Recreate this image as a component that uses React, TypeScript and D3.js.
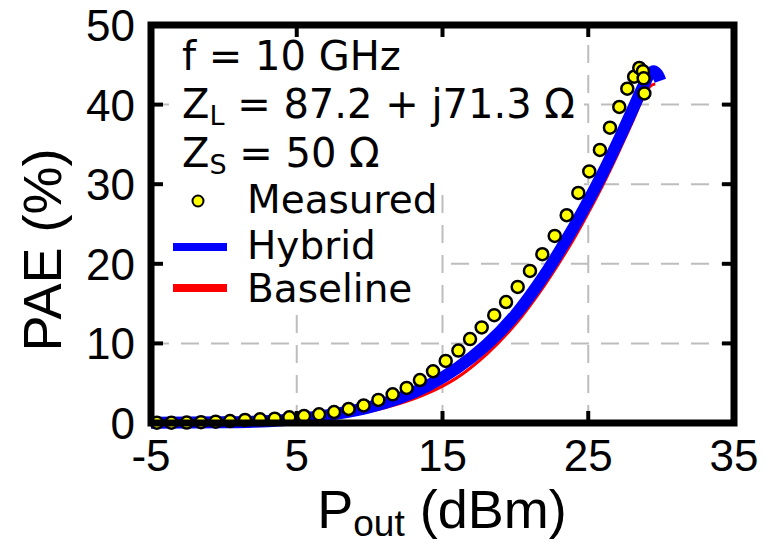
import * as d3 from 'd3';

// measured PAE (%) vs Pout (dBm)
const measPout = [-4.6, -3.6, -2.55, -1.57, -0.56, 0.42, 1.45, 2.48, 3.49, 4.49, 5.5, 6.53, 7.56, 8.56, 9.59, 10.6, 11.58, 12.54, 13.45, 14.35, 15.22, 16.09, 16.89, 17.69, 18.55, 19.36, 20.16, 21.0, 21.85, 22.7, 23.52, 24.32, 25.07, 25.8, 26.49, 27.13, 27.68, 28.15, 28.5, 28.75, 28.8, 28.85];
const measPae = [0.04, 0.04, 0.05, 0.1, 0.17, 0.25, 0.38, 0.46, 0.54, 0.71, 0.88, 1.09, 1.38, 1.76, 2.2, 2.9, 3.6, 4.4, 5.4, 6.5, 7.8, 9.1, 10.55, 12.0, 13.55, 15.2, 17.1, 19.1, 21.2, 23.5, 26.1, 28.9, 31.6, 34.3, 37.1, 39.7, 42.0, 43.5, 44.6, 44.2, 43.3, 41.4];

// simulated curves
const hybPout = [-5, 0, 2, 4, 6, 8, 10, 12, 14, 16, 18, 20, 22, 24, 25, 26, 27, 28, 28.8, 29.2, 29.5, 29.75, 29.95];
const hybPae = [0.03, 0.08, 0.15, 0.35, 0.7, 1.25, 2.0, 3.1, 4.7, 6.9, 9.8, 13.6, 18.6, 24.6, 27.9, 31.4, 35.2, 39.2, 42.4, 43.8, 44.2, 43.8, 43.0];
const basePout = [-5, 0, 2, 4, 6, 8, 10, 12, 14, 16, 18, 20, 22, 24, 25, 26, 27, 28, 28.8, 29.3, 29.6];
const basePae = [0.0, 0.04, 0.09, 0.22, 0.45, 0.85, 1.45, 2.4, 3.75, 5.7, 8.6, 12.4, 17.3, 23.1, 26.4, 29.9, 33.7, 37.7, 41.0, 42.4, 42.6];

const xTicks = [-5, 5, 15, 25, 35];
const yTicks = [0, 10, 20, 30, 40, 50];

const W = 766;
const H = 543;
const left = 151, right = 734, top = 25, bottom = 423;

export default function App() {
  const x = d3.scaleLinear().domain([-5, 35]).range([left, right]);
  const y = d3.scaleLinear().domain([0, 50]).range([bottom, top]);

  const line = d3.line<[number, number]>()
    .x(d => x(d[0]))
    .y(d => y(d[1]))
    .curve(d3.curveCatmullRom);

  const hyb = hybPout.map((p, i) => [p, hybPae[i]] as [number, number]);
  const base = basePout.map((p, i) => [p, basePae[i]] as [number, number]);

  const sans = "'Liberation Sans', Arial, sans-serif";
  const dv = "'DejaVu Sans', sans-serif";

  return (
    <svg width={W} height={H} style={{position: 'absolute', left: 0, top: 0, background: '#fff'}}>
      <rect x={0} y={0} width={W} height={H} fill="#fff"/>
      {/* grid */}
      <g stroke="#bdbdbd" strokeWidth={2} strokeDasharray="18,12">
        {xTicks.slice(1, -1).map(t => (
          <line key={'gx' + t} x1={x(t)} x2={x(t)} y1={bottom} y2={top}/>
        ))}
        {yTicks.slice(1, -1).map(t => (
          <line key={'gy' + t} x1={left} x2={right} y1={y(t)} y2={y(t)}/>
        ))}
      </g>

      {/* annotation + legend backgrounds */}
      <rect x={176} y={29} width={408} height={163} fill="#fff"/>
      <rect x={155} y={172} width={285} height={134} fill="#fff"/>

      {/* curves */}
      <path d={line(base) || ''} fill="none" stroke="#ff0000" strokeWidth={3}/>
      <path d={line(hyb) || ''} fill="none" stroke="#0000ff" strokeWidth={12} strokeLinejoin="round"/>
      <g>
        {measPout.map((p, i) => (
          <circle key={i} cx={x(p)} cy={y(measPae[i])} r={6} fill="#ffff00" stroke="#000" strokeWidth={2.5}/>
        ))}
      </g>

      {/* ticks */}
      <g stroke="#000" strokeWidth={4}>
        {xTicks.slice(1, -1).map(t => (
          <g key={'tx' + t}>
            <line x1={x(t)} x2={x(t)} y1={bottom} y2={bottom - 12}/>
            <line x1={x(t)} x2={x(t)} y1={top} y2={top + 12}/>
          </g>
        ))}
        {yTicks.slice(1, -1).map(t => (
          <g key={'ty' + t}>
            <line x1={left} x2={left + 12} y1={y(t)} y2={y(t)}/>
            <line x1={right} x2={right - 12} y1={y(t)} y2={y(t)}/>
          </g>
        ))}
      </g>
      <rect x={left} y={top} width={right - left} height={bottom - top} fill="none" stroke="#000" strokeWidth={7}/>

      {/* tick labels */}
      <g fontFamily={sans} fontSize={44} fill="#000">
        {xTicks.map(t => (
          <text key={'lx' + t} x={x(t)} y={471} textAnchor="middle">{t}</text>
        ))}
        {yTicks.map(t => (
          <text key={'ly' + t} x={135} y={y(t) + 16} textAnchor="end">{t}</text>
        ))}
      </g>

      {/* axis labels */}
      <text fontFamily={sans} fontSize={54} x={442} y={528} textAnchor="middle">
        P<tspan fontSize={37} dy={8}>out</tspan><tspan dy={-8}> (dBm)</tspan>
      </text>
      <text fontFamily={sans} fontSize={54} transform={`translate(61,250) rotate(-90)`} textAnchor="middle">
        PAE (%)
      </text>

      {/* annotation */}
      <g fontFamily={dv} fontSize={40} fill="#000">
        <text x={182} y={70}>f = 10 GHz</text>
        <text x={182} y={118}>Z<tspan fontSize={27} dy={7}>L</tspan><tspan dy={-7}> = 87.2 + j71.3 Ω</tspan></text>
        <text x={182} y={167}>Z<tspan fontSize={27} dy={7}>S</tspan><tspan dy={-7}> = 50 Ω</tspan></text>
      </g>

      {/* legend */}
      <g fontFamily={dv} fontSize={39} fill="#000">
        <circle cx={198} cy={201} r={5.5} fill="#ffff00" stroke="#000" strokeWidth={2}/>
        <text x={247} y={213}>Measured</text>
        <line x1={173} x2={227} y1={247} y2={247} stroke="#0000ff" strokeWidth={8}/>
        <text x={247} y={259}>Hybrid</text>
        <line x1={173} x2={227} y1={288} y2={288} stroke="#ff0000" strokeWidth={8}/>
        <text x={247} y={302}>Baseline</text>
      </g>
    </svg>
  );
}
